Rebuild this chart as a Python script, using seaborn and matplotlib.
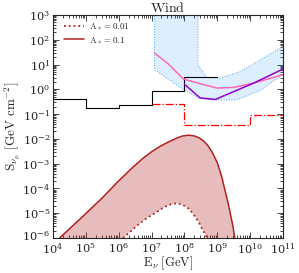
import numpy as np
import pandas as pd
import matplotlib
matplotlib.use("Agg")
import matplotlib.pyplot as plt
import seaborn as sns
from matplotlib.ticker import LogLocator, NullFormatter
from matplotlib.transforms import ScaledTranslation

# ---- data ----
# black step sensitivity curve
step_E = [1e4, 1e5, 1e6, 1e7, 1e8, 1e9]
step_S = [0.42, 0.18, 0.23, 0.83, 3.1, 3.1]

# red dash-dot step curve
dd_E = [1e7, 1e8, 1.07e9, 1e10, 1e11]
dd_S = [0.25, 0.038, 0.035, 0.09, 0.09]

# blue band: lower edge (left->right), upper edge (left->right)
band_lo_E = [1.23e7, 1.23e7, 9.3e7, 2.7e8, 8.9e8, 4.0e9, 2.0e10, 1e11]
band_lo_S = [3e3, 6.2, 0.98, 0.43, 0.37, 0.38, 0.9, 3.9]
band_hi_E = [2.57e8, 2.57e8, 4.8e8, 1.26e9, 5.1e9, 1e11]
band_hi_S = [3e3, 9.8, 3.0, 2.9, 5.2, 54.0]

# pink curve
pink_E = [1.23e7, 3.2e7, 9.3e7, 3.2e8, 1.0e9, 3.2e9, 1.3e10, 1e11]
pink_S = [29.0, 10.7, 2.6, 1.65, 1.12, 1.2, 1.8, 3.9]

# purple curve
purp_E = [1.0e8, 3.0e8, 8.7e8, 1.3e10, 1e11]
purp_S = [1.6, 0.45, 0.39, 1.8, 6.6]

# A* = 0.1 (solid): log10 E, log10 S
sol_logE = [4.20, 4.50, 4.93, 5.50, 5.95, 6.40, 6.76, 7.00, 7.27, 7.52, 7.78,
            7.95, 8.13, 8.30, 8.45, 8.59, 8.72, 8.85, 9.00, 9.13, 9.25, 9.34,
            9.41, 9.48, 9.53]
sol_logS = [-6.00, -5.63, -5.10, -4.38, -3.76, -3.18, -2.76, -2.52, -2.29, -2.12,
            -1.96, -1.88, -1.85, -1.88, -1.96, -2.09, -2.28, -2.55, -2.96, -3.50,
            -4.16, -4.65, -5.10, -5.55, -6.00]
# A* = 0.01 (dotted)
dot_logE = [6.13, 6.35, 6.56, 6.85, 7.17, 7.35, 7.52, 7.65, 7.78, 7.93, 8.09,
            8.22, 8.34, 8.45, 8.54, 8.62, 8.69]
dot_logS = [-6.00, -5.75, -5.50, -5.20, -4.94, -4.78, -4.67, -4.62, -4.60, -4.65,
            -4.77, -4.95, -5.17, -5.40, -5.64, -5.82, -6.00]

sol_E = [10 ** v for v in sol_logE]
sol_S = [10 ** v for v in sol_logS]
dot_E = [10 ** v for v in dot_logE]
dot_S = [10 ** v for v in dot_logS]

legend_labels = [r'$\mathrm{A}_* = 0.01$', r'$\mathrm{A}_* = 0.1$']
title = r'$\mathrm{Wind}$'
xlabel = r'$\mathrm{E}_\nu\ [\mathrm{GeV}]$'
ylabel = r'$\mathrm{S}_{\nu_\mu}\ [\mathrm{GeV\ cm}^{-2}]$'

# ---- style ----
sns.set_style("ticks")
plt.rcParams['font.family'] = ['DejaVu Serif']
plt.rcParams['mathtext.fontset'] = 'cm'

fig, ax = plt.subplots(figsize=(2.99, 2.73), dpi=100)
fig.subplots_adjust(left=53/299, right=283/299, bottom=1-238/273, top=1-15/273)

ax.set_xscale('log')
ax.set_yscale('log')
ax.set_xlim(1e4, 1e11)
ax.set_ylim(1e-6, 1e3)

# blue band
band_x = band_lo_E + band_hi_E[::-1]
band_y = band_lo_S + band_hi_S[::-1]
ax.fill(band_x, band_y, color='#1e90ff', alpha=0.15, lw=0, zorder=1)
sns.lineplot(x=band_lo_E, y=band_lo_S, ax=ax, color='#4aa8f5', lw=0.7,
             linestyle=':', estimator=None, sort=False, zorder=2)
sns.lineplot(x=band_hi_E, y=band_hi_S, ax=ax, color='#4aa8f5', lw=0.7,
             linestyle=':', estimator=None, sort=False, zorder=2)

# red fill between curves
fill_x = sol_E + dot_E[::-1]
fill_y = sol_S + dot_S[::-1]
ax.fill(fill_x, fill_y, color='#b22222', alpha=0.3, lw=0, zorder=1)

# step curves
sns.lineplot(x=step_E, y=step_S, ax=ax, color='black', lw=0.8,
             drawstyle='steps-post', estimator=None, sort=False, zorder=3)
sns.lineplot(x=dd_E, y=dd_S, ax=ax, color='red', lw=0.9, linestyle='-.',
             drawstyle='steps-post', estimator=None, sort=False, zorder=3)

# pink and purple
sns.lineplot(x=pink_E, y=pink_S, ax=ax, color='#ff69b4', lw=1.1,
             estimator=None, sort=False, zorder=4)
sns.lineplot(x=purp_E, y=purp_S, ax=ax, color='#9400d3', lw=1.1,
             estimator=None, sort=False, zorder=4)

# A* curves
sns.lineplot(x=dot_E, y=dot_S, ax=ax, color='#b22222', lw=1.3,
             linestyle=':', estimator=None, sort=False, zorder=5,
             label=legend_labels[0])
sns.lineplot(x=sol_E, y=sol_S, ax=ax, color='#b22222', lw=1.1,
             estimator=None, sort=False, zorder=5, label=legend_labels[1])

ax.legend(loc='upper left', frameon=False, fontsize=6.5, handlelength=2.2,
          borderaxespad=0.3, labelspacing=0.35, handletextpad=0.6,
          bbox_to_anchor=(0.02, 1.0))

# ticks
ax.xaxis.set_major_locator(LogLocator(base=10, numticks=20))
ax.yaxis.set_major_locator(LogLocator(base=10, numticks=20))
ax.xaxis.set_minor_locator(LogLocator(base=10, subs=np.arange(2, 10), numticks=100))
ax.yaxis.set_minor_locator(LogLocator(base=10, subs=np.arange(2, 10), numticks=100))
ax.xaxis.set_minor_formatter(NullFormatter())
ax.yaxis.set_minor_formatter(NullFormatter())
ax.tick_params(which='both', direction='in', top=True, right=True, labelsize=8.2,
               width=0.6)
ax.tick_params(which='major', length=4, pad=2)
ax.tick_params(axis='x', which='major', pad=2.5)
ax.tick_params(which='minor', length=2)
for s in ax.spines.values():
    s.set_linewidth(0.8)

ax.set_title(title, fontsize=10, pad=1)
ax.set_xlabel(xlabel, fontsize=9, labelpad=-1)
ax.set_ylabel(ylabel, fontsize=9.5, labelpad=0)

# nudge the lowest y tick label slightly up so it does not touch 10^4
fig.canvas.draw()
ylabels = ax.get_yticklabels()
for t in ylabels:
    if t.get_position()[1] <= 1.0001e-6 and t.get_position()[1] >= 0.9999e-6:
        t.set_transform(t.get_transform() + ScaledTranslation(0, 2 / 72, fig.dpi_scale_trans))

fig.savefig('out.png', dpi=100)
